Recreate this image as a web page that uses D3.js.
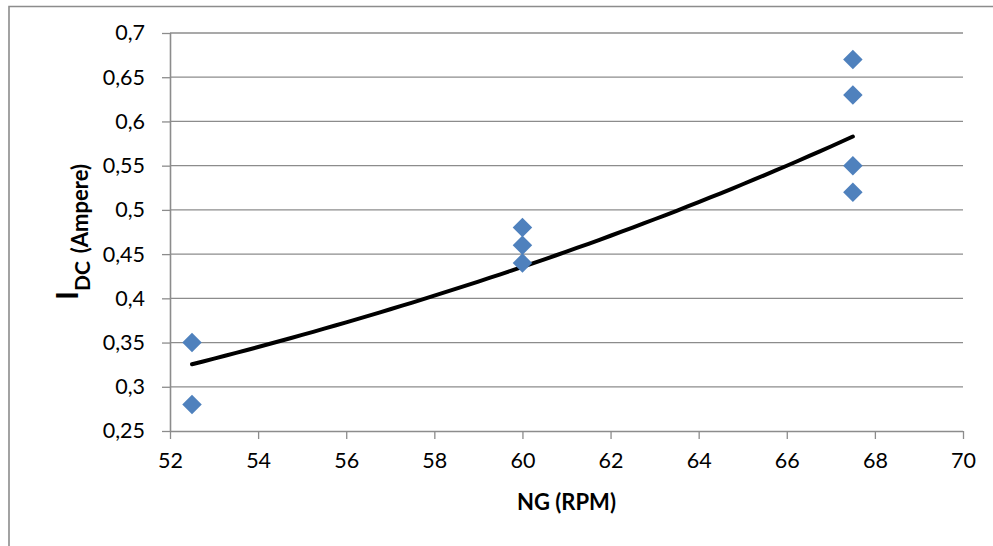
<!DOCTYPE html>
<html>
<head>
<meta charset="utf-8">
<script src="https://cdn.jsdelivr.net/npm/d3@7"></script>
<style>
  body { margin: 0; background: #fff; }
  svg { display: block; font-family: Lato, "Open Sans", sans-serif; }
</style>
</head>
<body>
<div id="chart-area"></div>
<script>
const MARGIN = { LEFT: 170, RIGHT: 30, TOP: 33, BOTTOM: 115 }
const WIDTH = 993 - MARGIN.LEFT - MARGIN.RIGHT
const HEIGHT = 546 - MARGIN.TOP - MARGIN.BOTTOM

// data
const rpm = [52.5, 52.5, 60, 60, 60, 67.5, 67.5, 67.5, 67.5]
const current = [0.35, 0.28, 0.48, 0.46, 0.44, 0.67, 0.63, 0.55, 0.52]
const xTicks = [52, 54, 56, 58, 60, 62, 64, 66, 68, 70]
const yTicks = [0.25, 0.3, 0.35, 0.4, 0.45, 0.5, 0.55, 0.6, 0.65, 0.7]
// exponential trendline y = a * e^(b x)
const trendA = 0.04231
const trendB = 0.03886
const trendRange = [52.5, 67.5]

const points = rpm.map((r, i) => ({ x: r, y: current[i] }))

const svg = d3.select("#chart-area").append("svg")
    .attr("width", 993)
    .attr("height", 546)

// outer chart border (only top and left visible)
svg.append("path")
    .attr("d", "M9,546 L9,6.5 L993,6.5")
    .attr("fill", "none")
    .attr("stroke", "#8c8c8c")
    .attr("stroke-width", 1.6)

const g = svg.append("g")
    .attr("transform", `translate(${MARGIN.LEFT}, ${MARGIN.TOP})`)

// Scales
const x = d3.scaleLinear()
    .range([0, WIDTH])
    .domain([52, 70])

const y = d3.scaleLinear()
    .range([HEIGHT, 0])
    .domain([0.25, 0.7])

const fmt = d => d3.format("")(+d.toFixed(2)).replace(".", ",")

// Gridlines
g.append("g")
    .selectAll("line")
    .data(yTicks.filter(t => t > 0.25))
    .enter().append("line")
    .attr("x1", 0)
    .attr("x2", WIDTH)
    .attr("y1", d => y(d))
    .attr("y2", d => y(d))
    .attr("stroke", "#8c8c8c")
    .attr("stroke-width", 1.3)

// X Axis
const xAxisCall = d3.axisBottom(x)
    .tickValues(xTicks)
    .tickSize(8)
    .tickPadding(14)
    .tickFormat(fmt)
g.append("g")
    .attr("class", "x axis")
    .attr("transform", `translate(0, ${HEIGHT})`)
    .call(xAxisCall)

// Y Axis
const yAxisCall = d3.axisLeft(y)
    .tickValues(yTicks)
    .tickSize(8)
    .tickPadding(17)
    .tickFormat(fmt)
g.append("g")
    .attr("class", "y axis")
    .call(yAxisCall)

g.selectAll(".axis .domain")
    .attr("stroke", "#8c8c8c")
    .attr("stroke-width", 1.6)
    .attr("d", function () { return d3.select(this.parentNode).classed("x") ? `M0,0.5H${WIDTH}` : `M0.5,0V${HEIGHT}` })
g.selectAll(".axis .tick line")
    .attr("stroke", "#8c8c8c")
    .attr("stroke-width", 1.3)
g.selectAll(".axis text")
    .attr("font-family", "Lato, sans-serif")
    .attr("font-size", "21.5px")
    .attr("fill", "#000")

// Trendline
const trendData = d3.range(trendRange[0], trendRange[1] + 0.001, 0.25)
    .map(v => ({ x: v, y: trendA * Math.exp(trendB * v) }))
g.append("path")
    .datum(trendData)
    .attr("fill", "none")
    .attr("stroke", "#000")
    .attr("stroke-width", 4)
    .attr("stroke-linecap", "round")
    .attr("d", d3.line().x(d => x(d.x)).y(d => y(d.y)))

// Points
g.selectAll(".pt")
    .data(points)
    .enter().append("path")
    .attr("class", "pt")
    .attr("d", d3.symbol(d3.symbolSquare, 190))
    .attr("transform", d => `translate(${x(d.x)}, ${y(d.y)}) rotate(45)`)
    .attr("fill", "#4f81bd")

// Labels
g.append("text")
    .attr("x", WIDTH / 2)
    .attr("y", HEIGHT + 79)
    .attr("font-size", "22px")
    .attr("font-weight", "bold")
    .attr("text-anchor", "middle")
    .text("NG (RPM)")

const yLabel = svg.append("text")
    .attr("transform", `translate(78, ${MARGIN.TOP + HEIGHT / 2}) rotate(-90)`)
    .attr("font-weight", "bold")
    .attr("text-anchor", "middle")
yLabel.append("tspan").attr("font-size", "30px").text("I")
yLabel.append("tspan").attr("font-size", "21px").attr("dy", 12).text("DC")
yLabel.append("tspan").attr("font-size", "22px").attr("dy", -2).attr("dx", 8).text("(Ampere)")
</script>
</body>
</html>
